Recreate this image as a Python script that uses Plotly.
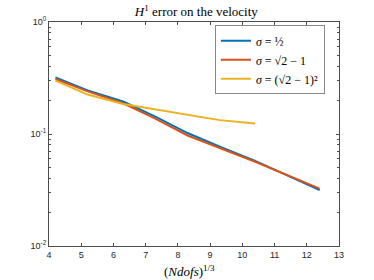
import plotly.graph_objects as go

x_fine = [4.2, 5.2, 6.3, 7.3, 8.3, 9.3, 10.4, 12.4]
x_coarse = [4.2, 5.2, 6.3, 7.3, 8.3, 9.3, 10.4]
err_half = [0.32, 0.245, 0.195, 0.143, 0.102, 0.077, 0.0575, 0.0315]
err_sqrt2m1 = [0.31, 0.24, 0.188, 0.137, 0.097, 0.0745, 0.0565, 0.0325]
err_sqrt2m1_sq = [0.30, 0.225, 0.185, 0.165, 0.148, 0.133, 0.124]
major_yticks = [0.01, 0.1, 1]
major_ylabels = ["10<sup>-2</sup>", "10<sup>-1</sup>", "10<sup>0</sup>"]
minor_yticks = [m * d for d in (0.01, 0.1) for m in range(2, 10)]

names = ["<i>σ</i> = ½", "<i>σ</i> = √2 − 1", "<i>σ</i> = (√2 − 1)²"]
colors = ["#0072BD", "#D95319", "#EDB120"]

fig = go.Figure()
for xs, ys, nm, c in [(x_fine, err_half, names[0], colors[0]),
                      (x_fine, err_sqrt2m1, names[1], colors[1]),
                      (x_coarse, err_sqrt2m1_sq, names[2], colors[2])]:
    fig.add_trace(go.Scatter(x=xs, y=ys, mode="lines", name=nm,
                             line=dict(color=c, width=2)))

axis_col = "#4d4d4d"
fig.update_layout(
    width=374, height=280,
    margin=dict(l=49, r=35, t=22, b=34),
    paper_bgcolor="white", plot_bgcolor="white",
    hovermode=False, dragmode=False,
    title=dict(text="<i>H</i><sup>1</sup> error on the velocity", x=0.525, xanchor="center",
               xref="container", yref="container", y=0.958, yanchor="middle",
               font=dict(family="Liberation Serif", size=13, color="black")),
    font=dict(family="Liberation Sans", size=9, color="#262626"),
    legend=dict(x=0.572, y=0.985, xanchor="left", yanchor="top",
                bordercolor="#888", borderwidth=1, bgcolor="white",
                font=dict(family="Liberation Serif", size=12, color="black"),
                tracegroupgap=0, itemwidth=30),
    showlegend=True,
    annotations=[dict(text="(<i>Ndofs</i>)<sup>1/3</sup>", xref="paper", yref="paper",
                      x=0.485, y=-0.068, xanchor="center", yanchor="top", showarrow=False,
                      font=dict(family="Liberation Serif", size=13, color="black"))],
)
fig.update_xaxes(range=[4, 13], dtick=1, ticks="inside", ticklen=3, tickcolor=axis_col,
                 showline=True, linecolor=axis_col, linewidth=1, mirror="ticks",
                 showgrid=False, zeroline=False)
fig.update_yaxes(type="log", range=[-2, 0], tickvals=major_yticks, ticktext=major_ylabels,
                 ticks="inside", ticklen=3, tickcolor=axis_col,
                 minor=dict(tickvals=minor_yticks, ticks="inside", ticklen=2,
                            tickcolor=axis_col, showgrid=False),
                 showline=True, linecolor=axis_col, linewidth=1, mirror="ticks",
                 showgrid=False, zeroline=False)

fig.write_html("out.html", config={"displayModeBar": False, "staticPlot": True},
               post_script="var d=document.getElementsByClassName('plotly-graph-div')[0];"
                           "d.style.position='fixed';d.style.left='0px';d.style.top='0px';")
